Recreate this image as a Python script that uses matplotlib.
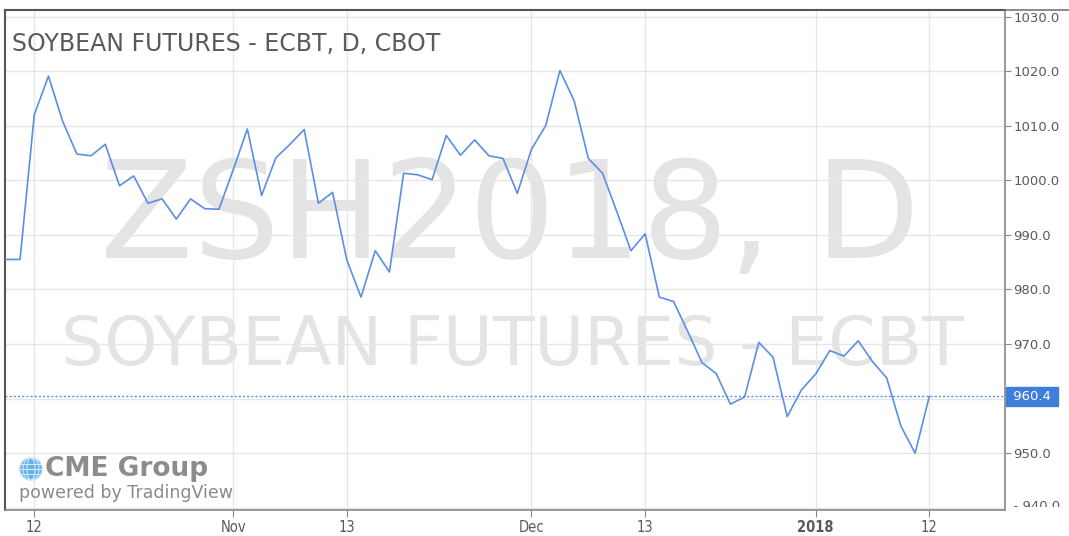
import matplotlib
matplotlib.use("Agg")
import matplotlib.pyplot as plt
from matplotlib.transforms import Bbox, TransformedBbox
from matplotlib.patches import Circle, Ellipse
from matplotlib.lines import Line2D

# daily settle, ZSH2018 (Oct 10 2017 .. Jan 12 2018)
prices = [985.5, 985.5, 1012.0, 1019.1, 1010.8, 1004.8, 1004.5, 1006.6, 999.0, 1000.8,
          995.8, 996.6, 992.9, 996.6, 994.8, 994.7, 1001.9, 1009.4, 997.2, 1004.1,
          1006.6, 1009.3, 995.8, 997.8, 985.4, 978.6, 987.1, 983.2, 1001.3, 1001.0,
          1000.1, 1008.2, 1004.6, 1007.4, 1004.5, 1004.0, 997.6, 1005.7, 1010.0, 1020.1,
          1014.6, 1004.0, 1001.3, 994.3, 987.1, 990.2, 978.6, 977.8, 972.3, 966.6,
          964.6, 959.0, 960.3, 970.3, 967.6, 956.7, 961.6, 964.5, 968.8, 967.8,
          970.6, 966.8, 963.8, 955.0, 950.0, 960.4]
last_price = 960.4
xtick_pos = [2, 16, 24, 37, 45, 57, 65]
xtick_labels = ["12", "Nov", "13", "Dec", "13", "2018", "12"]
ytick_vals = [950, 960, 970, 980, 990, 1000, 1010, 1020, 1030]

blue = "#5b8fe3"
grid_c = "#e6e6e6"
text_c = "#5a5a5a"

fig = plt.figure(figsize=(10.69, 5.36), dpi=100)
W, H = 1069, 536
ax = fig.add_axes([5 / W, 26 / H, 1000 / W, 500 / H])

x = list(range(len(prices)))
ax.set_xlim(-0.06, 70.33)
ax.set_ylim(939.6, 1031.2)

# watermarks
ax.text(0.505, 0.503, "ZSH2018, D", transform=ax.transAxes, ha="center", va="baseline",
        fontsize=98, color="#e4e4e4", family="DejaVu Sans", zorder=0)
ax.text(0.507, 0.29, "SOYBEAN FUTURES - ECBT", transform=ax.transAxes, ha="center",
        va="baseline", fontsize=49, color="#e4e4e4", family="DejaVu Sans", zorder=0)

# grid
for v in ytick_vals + [940]:
    ax.axhline(v, color=grid_c, lw=1, zorder=1)
for p in xtick_pos:
    ax.axvline(p, color=grid_c, lw=1, zorder=1)

ax.plot(x, prices, color=blue, lw=1.2, zorder=3)
ax.axhline(last_price, color=blue, lw=1, ls=(0, (1.5, 1.5)), zorder=2)

# axes styling
for s in ["left", "top"]:
    ax.spines[s].set_color("#555555")
    ax.spines[s].set_linewidth(1.5)
for s in ["right", "bottom"]:
    ax.spines[s].set_color("#888888")
    ax.spines[s].set_linewidth(1.2)
# top border continues across the price scale
fig.add_artist(Line2D([1005 / W, 1], [526 / H, 526 / H], color="#777777", lw=1.2))

ax.yaxis.tick_right()
ax.set_yticks(ytick_vals)
ax.set_yticklabels([f"{v:.1f}" if v != 960 else "" for v in ytick_vals])
ax.tick_params(axis="y", colors="#888888", labelcolor=text_c, labelsize=9.5,
               length=4, pad=2)
ax.set_xticks(xtick_pos)
ax.set_xticklabels(xtick_labels)
ax.tick_params(axis="x", colors="#888888", labelcolor=text_c, labelsize=10.5,
               length=5, pad=2)
for lab in ax.get_xticklabels():
    lab.set_fontstretch("condensed")
    if lab.get_text() == "2018":
        lab.set_fontweight("bold")

# remove the 960 tick mark (covered by the badge)
ax.yaxis.get_major_ticks()[1].tick2line.set_visible(False)

# partially hidden 940 label
clip = TransformedBbox(Bbox([[0, 29 / H], [1, 1]]), fig.transFigure)
t940 = ax.text(1.0, 940.2, "  - 940.0", transform=ax.get_yaxis_transform(), va="center",
               ha="left", fontsize=9.5, color=text_c)
t940.set_clip_box(clip)
t940.set_clip_on(True)

# last price badge
ax.text(1.004, last_price, " 960.4 ", transform=ax.get_yaxis_transform(), va="center",
        ha="left", fontsize=9.5, color="white",
        bbox=dict(boxstyle="square,pad=0.25", fc="#3f7fdc", ec="#3f7fdc"),
        clip_on=False)

# title
ax.text(7 / 1000, 0.955, "SOYBEAN FUTURES - ECBT, D, CBOT", transform=ax.transAxes,
        ha="left", va="top", fontsize=17, color=text_c)

# CME branding (globe + wordmark)
gx, gy, gr = 0.31, 0.67, 0.11
fig.add_artist(Circle((gx, gy), gr, transform=fig.dpi_scale_trans,
                      fc="#66b2e8", ec="#a9d4f2", lw=1))
for w in [0.04, 0.08]:
    fig.add_artist(Ellipse((gx, gy), w * 2, gr * 2, transform=fig.dpi_scale_trans,
                           fc="none", ec="#d6ecfa", lw=0.7))
for dy in [-0.05, 0.0, 0.05]:
    fig.add_artist(Line2D([gx - gr * 0.95, gx + gr * 0.95], [gy + dy, gy + dy],
                          transform=fig.dpi_scale_trans, color="#d6ecfa", lw=0.7))
fig.text(45 / W, (536 - 469) / H, "CME Group", ha="left", va="center", fontsize=19,
         color="#8c8c8c", weight="bold")
fig.text(19 / W, (536 - 493) / H, "powered by TradingView", ha="left", va="center",
         fontsize=12.5, color="#8a8a8a")

fig.savefig("out.png", dpi=100)
